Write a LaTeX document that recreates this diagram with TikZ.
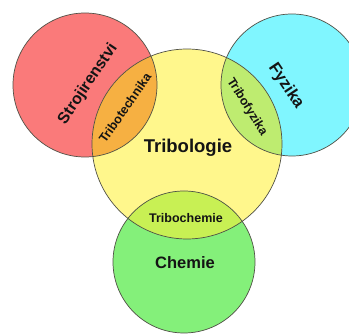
\documentclass[tikz,border=0pt]{standalone}
\usepackage{fontspec}
\setmainfont{Liberation Sans}
\definecolor{cred}{RGB}{250,122,122}
\definecolor{ccyan}{RGB}{128,246,255}
\definecolor{cyel}{RGB}{255,247,140}
\definecolor{cgreen}{RGB}{132,240,122}
\definecolor{corange}{RGB}{246,176,66}
\definecolor{cfyz}{RGB}{190,236,112}
\definecolor{cchem}{RGB}{200,240,84}
\definecolor{cline}{RGB}{80,80,70}
\definecolor{ctext}{RGB}{20,20,20}
\tikzset{
  ring/.style={draw=cline, line width=0.7pt},
  lbl/.style={font=\bfseries, text=ctext, inner sep=0pt},
}
\begin{document}
\begin{tikzpicture}[x=1pt,y=-1pt]
\clip (0,0) rectangle (349,334);
\useasboundingbox (0,0) rectangle (349,334);
\coordinate (R) at (85,85);
\coordinate (C) at (292,85);
\coordinate (Y) at (187,144);
\coordinate (G) at (184,262);
% fills
\fill[cred] (R) circle (72);
\fill[ccyan] (C) circle (71);
\fill[cyel] (Y) circle (95);
\fill[cgreen] (G) circle (71);
\begin{scope}\clip (Y) circle (95); \fill[corange] (R) circle (72);\end{scope}
\begin{scope}\clip (Y) circle (95); \fill[cfyz] (C) circle (71);\end{scope}
\begin{scope}\clip (Y) circle (95); \fill[cchem] (G) circle (71);\end{scope}
% outlines
\draw[ring] (R) circle (72);
\draw[ring] (C) circle (71);
\draw[ring] (Y) circle (95);
\draw[ring] (G) circle (71);
% labels
\node[lbl, font=\fontsize{16}{16}\selectfont\bfseries, rotate=56] (strl) at (88,84) {Strojirenstvi};
\node[lbl, font=\fontsize{16.5}{16.5}\selectfont\bfseries, rotate=-56] (fyzl) at (286,86) {Fyzika};
\node[lbl, font=\fontsize{18.5}{18.5}\selectfont\bfseries] (tril) at (188,148) {Tribologie};
\node[lbl, font=\fontsize{16.5}{16.5}\selectfont\bfseries] (cheml) at (185,263) {Chemie};
\node[lbl, font=\fontsize{12.5}{12.5}\selectfont\bfseries, rotate=55] (ttl) at (125,108) {Tribotechnika};
\node[lbl, font=\fontsize{12.5}{12.5}\selectfont\bfseries, rotate=-58] (tfl) at (247,107) {Tribofyzika};
\node[lbl, font=\fontsize{12.5}{12.5}\selectfont\bfseries] (tcl) at (186,218) {Tribochemie};
\end{tikzpicture}
\end{document}
